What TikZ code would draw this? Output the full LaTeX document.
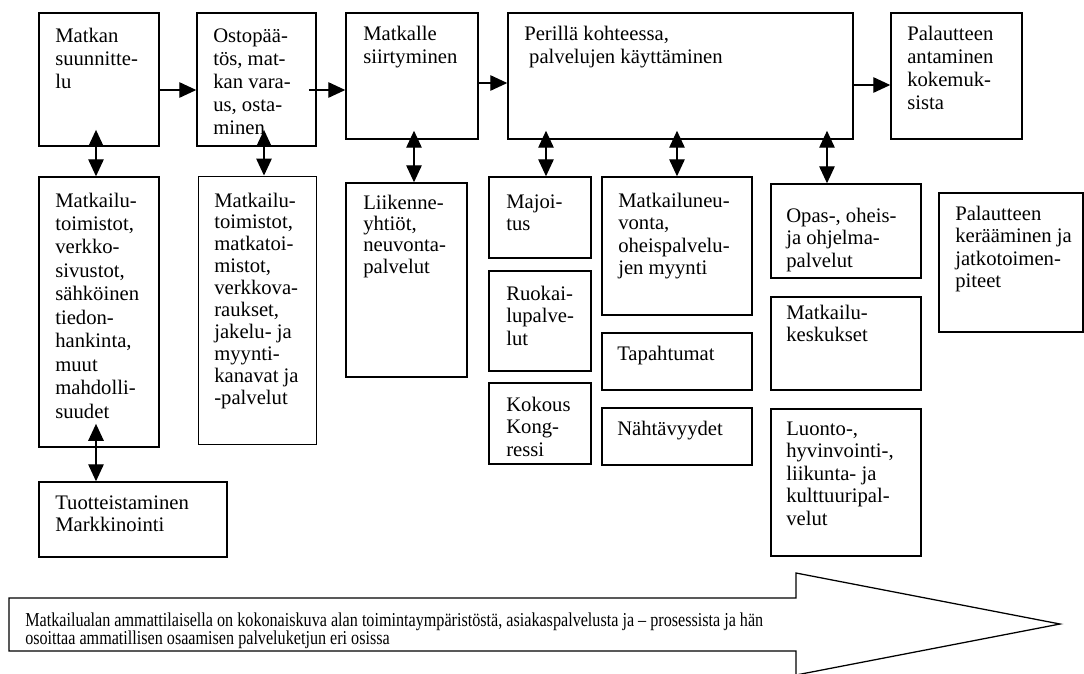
\documentclass[tikz,border=0pt]{standalone}
\usepackage{fontspec}
\setmainfont{Liberation Serif}
\newfontfamily\kapea{Liberation Serif}[FakeStretch=0.82]
\usetikzlibrary{arrows.meta,fit}

\newcommand{\rivit}[1]{\begin{tabular}[t]{@{}l@{}}#1\end{tabular}}

\tikzset{
  ruutu/.style={draw, line width=1.1pt, inner sep=0pt},
  teksti/.style={anchor=base west, inner sep=0pt, font=\fontsize{14.7}{16}\selectfont},
  nuoli/.style={->, line width=0.8pt},
  kaksi/.style={<->, line width=0.8pt, shorten <=-#1},
  >={Triangle[length=12pt,width=11pt]}
}

\begin{document}
\begin{tikzpicture}[x=0.025cm, y=-0.025cm]
  \useasboundingbox (0,0) rectangle (1084,673);

  % Palveluketjun vaiheet
  \node[ruutu, fit={(39,13) (159,146)}] (matkan) {};
  \node[ruutu, fit={(197,13) (316,146)}] (osto) {};
  \node[ruutu, fit={(346,13) (478,139)}] (matkalle) {};
  \node[ruutu, fit={(508,13) (853,139)}] (perilla) {};
  \node[ruutu, fit={(891,13) (1022,139)}] (palaute) {};

  \node[teksti, font=\fontsize{14.7}{16.4}\selectfont] (matkan-t) at (55,42) {\rivit{Matkan\\suunnitte-\\lu}};
  \node[teksti, font=\fontsize{14.7}{16.4}\selectfont] (osto-t) at (213,42) {\rivit{Ostopää-\\tös, mat-\\kan vara-\\us, osta-\\minen}};
  \node[teksti, font=\fontsize{14.7}{16.4}\selectfont] (matkalle-t) at (363,40) {\rivit{Matkalle\\siirtyminen}};
  \node[teksti, font=\fontsize{14.7}{16.4}\selectfont] (perilla-t) at (524,40) {\rivit{Perillä kohteessa,\\\hspace*{3.5pt}palvelujen käyttäminen}};
  \node[teksti, font=\fontsize{14.7}{16.4}\selectfont] (palaute-t) at (907,40) {\rivit{Palautteen\\antaminen\\kokemuk-\\sista}};

  % Toimijat ja palvelut
  \node[ruutu, fit={(39,177) (159,447)}] (toimistot) {};
  \node[ruutu, line width=0.7pt, fit={(198,176) (316,444)}] (kanavat) {};
  \node[ruutu, fit={(346,183) (467,377)}] (liikenne) {};
  \node[ruutu, fit={(489,177) (591,258)}] (majoitus) {};
  \node[ruutu, fit={(489,271) (591,371)}] (ruokailu) {};
  \node[ruutu, fit={(489,383) (591,464)}] (kokous) {};
  \node[ruutu, fit={(602,177) (752,315)}] (neuvonta) {};
  \node[ruutu, fit={(602,333) (752,390)}] (tapahtumat) {};
  \node[ruutu, fit={(602,408) (752,465)}] (nahtavyydet) {};
  \node[ruutu, fit={(771,184) (921,278)}] (opas) {};
  \node[ruutu, fit={(771,297) (921,390)}] (keskukset) {};
  \node[ruutu, fit={(771,409) (921,556)}] (luonto) {};
  \node[ruutu, fit={(939,193) (1083,332)}] (keraaminen) {};
  \node[ruutu, fit={(39,482) (227,557)}] (tuote) {};

  \node[teksti, font=\fontsize{14.7}{16.7}\selectfont] (toimistot-t) at (55,207) {\rivit{Matkailu-\\toimistot,\\verkko-\\sivustot,\\sähköinen\\tiedon-\\hankinta,\\muut\\mahdolli-\\suudet}};
  \node[teksti, font=\fontsize{14.7}{15.6}\selectfont] (kanavat-t) at (214,207) {\rivit{Matkailu-\\toimistot,\\matkatoi-\\mistot,\\verkkova-\\raukset,\\jakelu- ja\\myynti-\\kanavat ja\\-palvelut}};
  \node[teksti, font=\fontsize{14.7}{15.2}\selectfont] (liikenne-t) at (363,209) {\rivit{Liikenne-\\yhtiöt,\\neuvonta-\\palvelut}};
  \node[teksti] (majoitus-t) at (506,208) {\rivit{Majoi-\\tus}};
  \node[teksti] (ruokailu-t) at (506,300) {\rivit{Ruokai-\\lupalve-\\lut}};
  \node[teksti] (kokous-t) at (506,411) {\rivit{Kokous\\Kong-\\ressi}};
  \node[teksti] (neuvonta-t) at (618,207) {\rivit{Matkailuneu-\\vonta,\\oheispalvelu-\\jen myynti}};
  \node[teksti] (tapahtumat-t) at (617,360) {Tapahtumat};
  \node[teksti] (nahtavyydet-t) at (617,435) {Nähtävyydet};
  \node[teksti] (opas-t) at (786,222) {\rivit{Opas-, oheis-\\ja ohjelma-\\palvelut}};
  \node[teksti] (keskukset-t) at (786,319) {\rivit{Matkailu-\\keskukset}};
  \node[teksti] (luonto-t) at (786,435) {\rivit{Luonto-,\\hyvinvointi-,\\liikunta- ja\\kulttuuripal-\\velut}};
  \node[teksti] (keraaminen-t) at (955,220) {\rivit{Palautteen\\kerääminen ja\\jatkotoimen-\\piteet}};
  \node[teksti] (tuote-t) at (55,509) {\rivit{Tuotteistaminen\\Markkinointi}};

  % Nuolet
  \draw[nuoli] (matkan.east |- 0,90) -- (osto.west |- 0,90);
  \draw[nuoli, shorten <=-5.7pt] (osto.east |- 0,90) -- (matkalle.west |- 0,90);
  \draw[nuoli] (matkalle.east |- 0,83) -- (perilla.west |- 0,83);
  \draw[nuoli] (perilla.east |- 0,85) -- (palaute.west |- 0,85);

  \draw[kaksi=12pt] (matkan.south -| 96,0) -- (toimistot.north -| 96,0);
  \draw[kaksi=12pt] (osto.south -| 264,0) -- (kanavat.north -| 264,0);
  \draw[kaksi=6.4pt] (matkalle.south -| 414,0) -- (liikenne.north -| 414,0);
  \draw[kaksi=6.4pt] (perilla.south -| 546,0) -- (majoitus.north -| 546,0);
  \draw[kaksi=6.4pt] (perilla.south -| 677,0) -- (neuvonta.north -| 677,0);
  \draw[kaksi=6.4pt] (perilla.south -| 827,0) -- (opas.north -| 827,0);
  \draw[kaksi=17pt] (toimistot.south -| 96,0) -- (tuote.north -| 96,0);

  % Iso nuoli
  \draw[line width=0.9pt] (9,598) -- (796,598) -- (796,573) -- (1060,624) -- (796,675) -- (796,651) -- (9,651) -- cycle;
  \node[teksti, font=\kapea\fontsize{14}{12.2}\selectfont] (ala-t) at (25,626) {\rivit{Matkailualan ammattilaisella on kokonaiskuva alan toimintaympäristöstä, asiakaspalvelusta ja – prosessista ja hän\\osoittaa ammatillisen osaamisen palveluketjun eri osissa}};
\end{tikzpicture}
\end{document}
